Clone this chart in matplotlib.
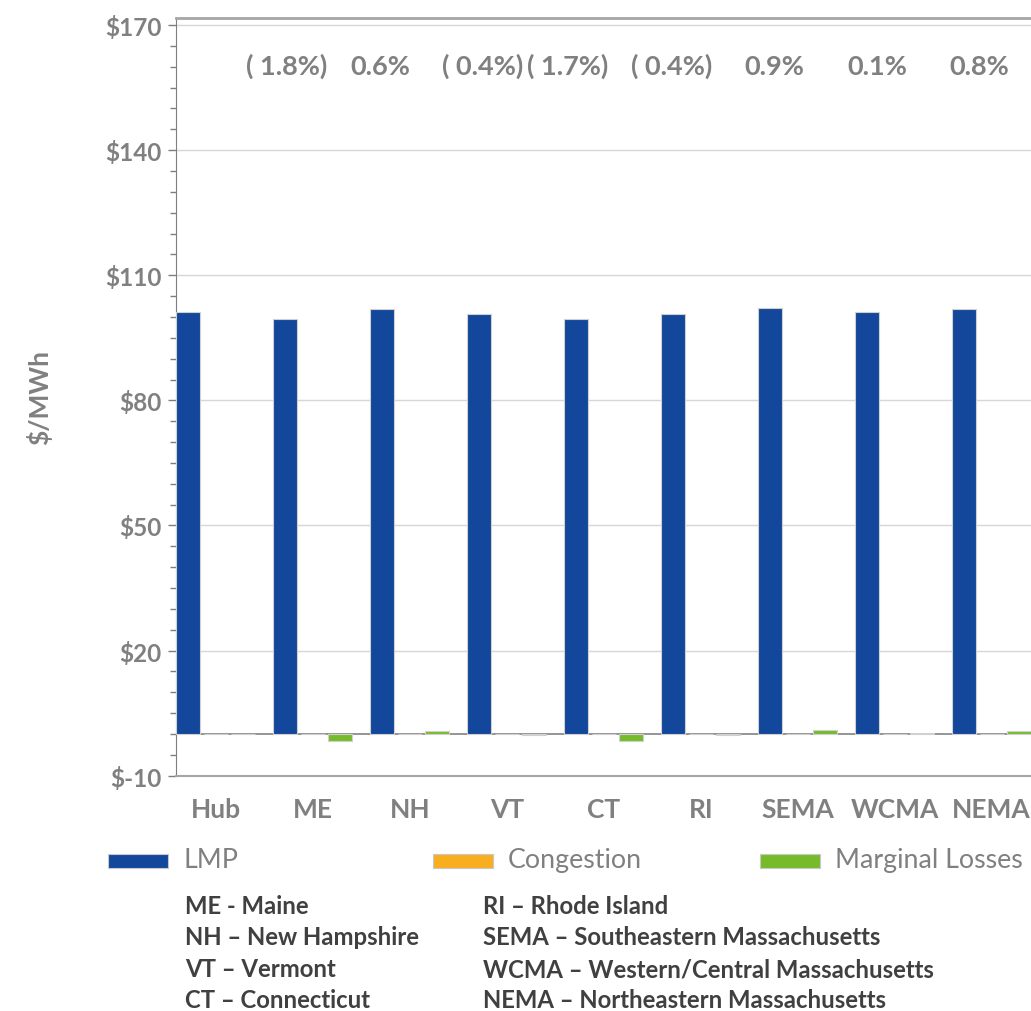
import numpy as np
import matplotlib
matplotlib.use("Agg")
import matplotlib.pyplot as plt
from matplotlib.patches import Rectangle
from matplotlib.ticker import MultipleLocator, FuncFormatter

plt.rcParams['font.family'] = ['Lato', 'DejaVu Sans']

# data ($/MWh)
zones = ['Hub', 'ME', 'NH', 'VT', 'CT', 'RI', 'SEMA', 'WCMA', 'NEMA']
lmp = [101.2, 99.4, 101.8, 100.8, 99.5, 100.8, 102.1, 101.3, 102.0]
congestion = [0.1, -0.1, 0.1, 0.0, 0.0, 0.1, 0.1, 0.1, 0.1]
losses = [0.1, -1.7, 0.7, -0.3, -1.7, -0.2, 1.0, 0.3, 0.8]
pct_labels = ['( 1.8%)', '0.6%', '( 0.4%)', '( 1.7%)', '( 0.4%)', '0.9%', '0.1%', '0.8%']
# nudges of the percent labels from their category centre
pct_shift = [-0.27, -0.30, -0.25, -0.37, -0.30, -0.24, -0.18, -0.13]

series_names = ['LMP', 'Congestion', 'Marginal Losses']
colors = ['#12479C', '#F9AE1F', '#76BC2A']

zone_names_left = ['ME - Maine', 'NH \u2013 New Hampshire', 'VT \u2013 Vermont', 'CT \u2013 Connecticut']
zone_names_right = ['RI \u2013 Rhode Island', 'SEMA \u2013 Southeastern Massachusetts',
                    'WCMA \u2013 Western/Central Massachusetts', 'NEMA \u2013 Northeastern Massachusetts']

GRAY = '#808080'
W, H = 1031, 1012
fig = plt.figure(figsize=(W / 100, H / 100), dpi=100)
ax = fig.add_axes([175.5 / W, 1 - 776.7 / H, 1 - 175.5 / W, (776.7 - 19) / H])

x = np.arange(len(zones))
width = 0.25
offset = 0.283
for i, vals in enumerate([lmp, congestion, losses]):
    ax.bar(x + (i - 1) * offset, vals, width, color=colors[i],
           edgecolor='#D0D0D0', linewidth=0.8, zorder=3)

ax.set_xlim(-0.415, 8.405)
ax.set_ylim(-10, 171.7)
ax.set_yticks(np.arange(-10, 171, 30))
ax.yaxis.set_minor_locator(MultipleLocator(5))
ax.yaxis.set_major_formatter(FuncFormatter(lambda v, p: f'${int(v)}'))
for v in np.arange(20, 171, 30):
    ax.axhline(v, color='#D9D6D3', lw=1.0, zorder=1)
ax.axhline(0, color='#8C8C8C', lw=1.3, zorder=2)

ax.set_xticks(x)
ax.set_xticklabels(zones)
ax.tick_params(axis='x', length=0, pad=15, labelsize=19, labelcolor=GRAY)
ax.tick_params(axis='y', which='major', length=6, width=1, color='#7F7F7F',
               labelsize=17.5, labelcolor=GRAY, pad=4)
ax.tick_params(axis='y', which='minor', length=4, width=1, color='#7F7F7F')
for lab in ax.get_xticklabels() + ax.get_yticklabels():
    lab.set_fontweight('bold')

ax.spines['right'].set_visible(False)
ax.spines['left'].set_color('#7F7F7F')
ax.spines['bottom'].set_color('#A6A6A6')
ax.spines['bottom'].set_linewidth(1.5)
ax.spines['top'].set_color('#A6A6A6')
ax.spines['top'].set_linewidth(2)

ax.set_ylabel('$/MWh', fontsize=19, fontweight='bold', color=GRAY, labelpad=38)

for k, lab in enumerate(pct_labels):
    ax.text(x[k + 1] + pct_shift[k], 160.3, lab, ha='center', va='center',
            fontsize=19.5, fontweight='bold', color=GRAY)

# legend row
leg_x = [108, 433, 760]
for i, name in enumerate(series_names):
    fig.add_artist(Rectangle((leg_x[i] / W, 1 - 869 / H), 60 / W, 14 / H,
                             transform=fig.transFigure, facecolor=colors[i],
                             edgecolor='#C8C8C8', lw=0.8))
    fig.text((leg_x[i] + 75) / W, 1 - 861 / H, name, ha='left', va='center',
             fontsize=19.3, color=GRAY)

# zone abbreviations
row_y = [906, 938, 970, 1001]
for j in range(4):
    fig.text(185 / W, 1 - row_y[j] / H, zone_names_left[j], ha='left', va='center',
             fontsize=17.2, fontweight='bold', color='#404040')
    fig.text(483 / W, 1 - row_y[j] / H, zone_names_right[j], ha='left', va='center',
             fontsize=17.2, fontweight='bold', color='#404040')

fig.savefig('out.png', dpi=100)
